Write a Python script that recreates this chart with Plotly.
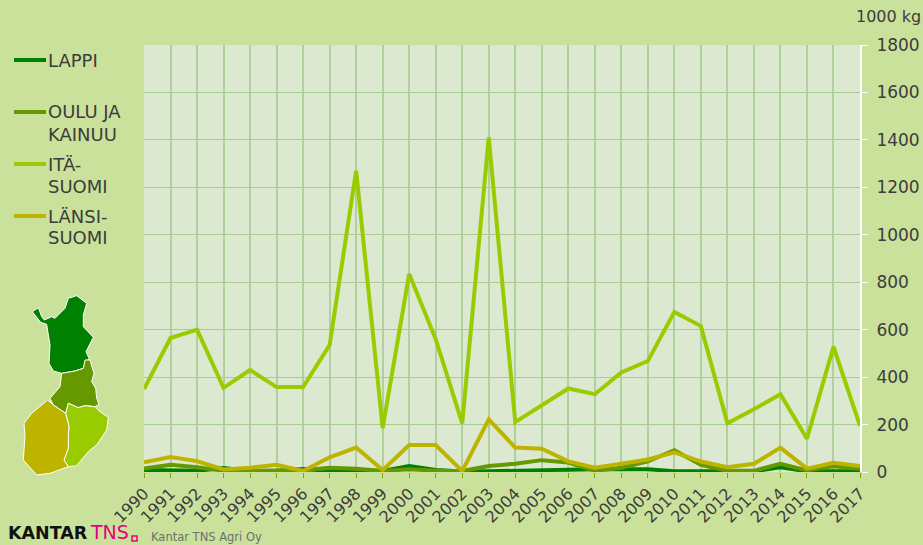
import plotly.graph_objects as go

years = list(range(1990, 2018))
lappi = [8, 5, 5, 17, 4, 5, 13, 4, 8, 4, 25, 8, 2, 3, 4, 5, 10, 12, 10, 12, 3, 3, 3, 3, 20, 3, 3, 3]
oulu = [15, 30, 20, 5, 5, 5, 7, 18, 14, 4, 12, 5, 4, 25, 35, 50, 40, 5, 18, 45, 92, 30, 5, 5, 35, 7, 24, 14]
ita = [350, 565, 600, 355, 430, 358, 358, 535, 1270, 185, 835, 560, 205, 1410, 210, 280, 352, 328, 420, 468, 675, 615, 205, 265, 328, 140, 528, 195]
lansi = [41, 63, 46, 11, 18, 30, 4, 62, 103, 8, 114, 114, 4, 222, 103, 98, 45, 18, 35, 53, 83, 44, 20, 35, 103, 14, 39, 25]
names = [["LAPPI"], ["OULU JA", "KAINUU"], ["ITÄ-", "SUOMI"], ["LÄNSI-", "SUOMI"]]
colors = ["#008000", "#669900", "#99CC00", "#BDB400"]
series = [lappi, oulu, ita, lansi]
y_ticks = list(range(0, 1801, 200))

W, H = 923, 545
L, R, T, B = 144, 860, 45, 472
FONT = "DejaVu Sans"
TEXT = "#3c3c3c"

map_lappi = [(97,80),(115,68),(125,95),(133,105),(155,95),(165,100),(195,70),(205,40),(230,32),(260,55),(250,90),(250,125),(280,157),(258,200),(268,222),(255,230),(250,250),(225,258),(185,265),(160,258),(147,235),(150,180),(145,150),(140,118),(122,112)]
map_oulu = [(185,265),(225,258),(250,250),(255,225),(270,225),(282,265),(275,290),(287,310),(290,340),(297,358),(285,365),(255,362),(235,368),(205,355),(197,385),(160,360),(150,340),(180,305)]
map_ita = [(205,355),(235,368),(255,362),(285,365),(300,380),(325,397),(320,435),(290,480),(265,500),(230,542),(205,545),(192,525),(205,490),(205,450),(207,425),(197,385)]
map_lansi = [(143,345),(160,360),(197,385),(207,425),(205,450),(205,490),(192,525),(205,545),(150,565),(110,570),(70,525),(75,450),(72,415),(95,385)]


def px(x, y):
    return (x - L) / (R - L), (B - y) / (B - T)


def region(points, color):
    parts = []
    for i, (zx, zy) in enumerate(points):
        x, y = px(zx / 3, 285 + zy / 3)
        parts.append(f"{'M' if i == 0 else 'L'}{x:.5f},{y:.5f}")
    return dict(type="path", path=" ".join(parts) + " Z", xref="paper", yref="paper",
                fillcolor=color, line=dict(color="white", width=1), layer="above")


fig = go.Figure()
for name, vals, col in zip(names, series, colors):
    fig.add_trace(go.Scatter(x=years, y=vals, name=" ".join(name), mode="lines",
                             line=dict(color=col, width=4), cliponaxis=False))

shapes = [region(map_lappi, colors[0]), region(map_oulu, colors[1]),
          region(map_ita, colors[2]), region(map_lansi, colors[3])]
x0, y0 = px(132, 541)
x1, y1 = px(137, 536)
shapes.append(dict(type="rect", xref="paper", yref="paper", x0=x0, y0=y0, x1=x1, y1=y1,
                   line=dict(color="#e6007e", width=1.5), fillcolor="rgba(0,0,0,0)"))


def note(text, x, y, size, color=TEXT, anchor="left", **kw):
    xp, yp = px(x, y)
    return dict(text=text, x=xp, y=yp, xref="paper", yref="paper", showarrow=False,
                xanchor=anchor, yanchor="middle", xshift=-2 if anchor == "left" else 0,
                font=dict(family=FONT, size=size, color=color), **kw)


annotations = [
    note("1000 kg", 923, 17, 16, anchor="right"),
    note("<b>KANTAR</b>", 8, 533, 17.5, color="#111111"),
    note("TNS", 90, 532, 19, color="#e6007e"),
    note("Kantar TNS Agri Oy", 151, 537, 11.5, color="#6e6e6e"),
]

for i, (lines, col) in enumerate(zip(names, colors)):
    key_y = 60 + 52 * i
    ax0, ay0 = px(14, key_y)
    ax1, _ = px(46, key_y)
    shapes.append(dict(type="line", xref="paper", yref="paper", x0=ax0, x1=ax1, y0=ay0, y1=ay0,
                       line=dict(color=col, width=4)))
    for j, line in enumerate(lines):
        annotations.append(note(line, 48, key_y + 22 * j, 18))

fig.update_layout(
    width=W, height=H,
    margin=dict(l=L, r=W - R, t=T, b=H - B, autoexpand=False),
    paper_bgcolor="#CAE19B", plot_bgcolor="#DCE8CF",
    font=dict(family=FONT, size=16, color=TEXT),
    showlegend=False,
    shapes=shapes, annotations=annotations,
    xaxis=dict(range=[1990, 2017], tickmode="array", tickvals=years, ticktext=[str(y) for y in years],
               tickangle=-45, ticks="outside", ticklen=5, tickcolor="#7fa800", tickwidth=1,
               showgrid=True, gridcolor="#B0D0A0", gridwidth=2, zeroline=False,
               showline=False, tickfont=dict(size=16, color=TEXT)),
    yaxis=dict(range=[0, 1800], side="right", tickvals=y_ticks, ticks="outside", ticklen=6,
               tickcolor="white", tickwidth=1, showline=True, linecolor="white", linewidth=2,
               showgrid=True, gridcolor="#A8CC90", gridwidth=1.2, zeroline=False,
               ticklabelstandoff=5, tickfont=dict(size=17, color=TEXT)),
)
fig.write_html("out.html", config={"displayModeBar": False},
               post_script="document.body.style.margin='0';document.body.style.background='#CAE19B';")
